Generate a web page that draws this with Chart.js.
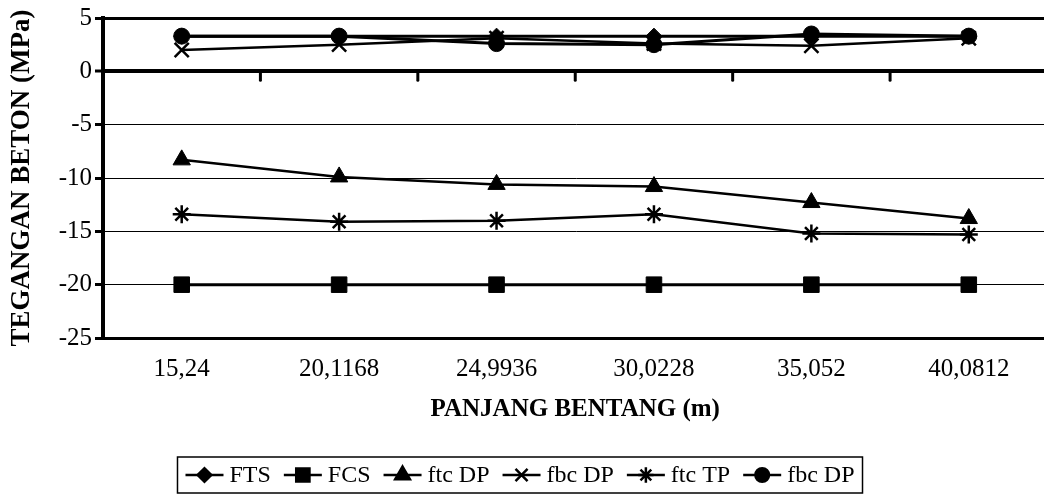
<!DOCTYPE html>
<html>
<head>
<meta charset="utf-8">
<script src="https://cdn.jsdelivr.net/npm/chart.js@4.4.1/dist/chart.umd.min.js"></script>
<style>
  html, body { margin: 0; padding: 0; background: #fff; overflow: hidden; }
  #wrap { position: relative; width: 1060px; height: 497px; }
</style>
</head>
<body>
<div id="wrap"><canvas id="chart"></canvas></div>
<script>
// Span lengths (m)
const categories = ['15,24', '20,1168', '24,9936', '30,0228', '35,052', '40,0812'];

// Concrete stresses (MPa) per span
const fts   = [3.3, 3.3, 3.3, 3.3, 3.3, 3.3];
const fcs   = [-20, -20, -20, -20, -20, -20];
const ftcDP = [-8.3, -9.9, -10.6, -10.8, -12.3, -13.8];
const fbcDP = [2.0, 2.5, 3.1, 2.6, 2.4, 3.1];
const ftcTP = [-13.4, -14.1, -14.0, -13.4, -15.2, -15.3];
const fbcDP2 = [3.3, 3.3, 2.6, 2.5, 3.5, 3.3];

const yTicks = [5, 0, -5, -10, -15, -20, -25];

const serif = '"Liberation Serif", "Times New Roman", serif';

function series(label, data, style, radius, width) {
  return {
    label, data,
    borderColor: '#000', backgroundColor: '#000',
    borderWidth: width, pointStyle: style, pointRadius: radius,
    pointHoverRadius: radius, pointBorderWidth: style === 'crossRot' || style === 'star' ? 2.5 : 1,
    pointBorderColor: '#000', pointBackgroundColor: '#000',
    tension: 0, fill: false
  };
}

const datasets = [
  series('FTS', fts, 'rectRot', 8, 3),
  series('FCS', fcs, 'rect', 11, 3),
  series('ftc DP', ftcDP, 'triangle', 10, 2.5),
  series('fbc DP', fbcDP, 'crossRot', 10, 2.5),
  series('ftc TP', ftcTP, 'star', 9, 2.5),
  series('fbc DP', fbcDP2, 'circle', 8, 3)
];

// Small downward ticks on the zero line at category boundaries
const zeroTicks = {
  id: 'zeroTicks',
  afterDatasetsDraw(chart) {
    const x = chart.scales.x, y = chart.scales.y, ctx = chart.ctx;
    const y0 = y.getPixelForValue(0);
    ctx.save();
    ctx.strokeStyle = '#000';
    ctx.lineWidth = 3;
    ctx.lineCap = 'round';
    for (let i = 0; i < categories.length - 1; i++) {
      const bx = (x.getPixelForValue(i) + x.getPixelForValue(i + 1)) / 2;
      ctx.beginPath();
      ctx.moveTo(bx, y0);
      ctx.lineTo(bx, y0 + 9);
      ctx.stroke();
    }
    ctx.restore();
  }
};

// Boxed legend with a line running through each marker
const boxLegend = {
  id: 'boxLegend',
  afterDraw(chart) {
    const ctx = chart.ctx;
    const ds = chart.data.datasets;
    const lineLen = 38, gapText = 6, gapItem = 13, padX = 8;
    const cy = 475, boxTop = 457, boxH = 36;
    ctx.save();
    ctx.font = '24px ' + serif;
    const widths = ds.map(d => ctx.measureText(d.label).width);
    const total = widths.reduce((a, w) => a + lineLen + gapText + w, 0) + gapItem * (ds.length - 1) + padX * 2;
    const left = 520 - total / 2;
    ctx.strokeStyle = '#000';
    ctx.lineWidth = 1.5;
    ctx.strokeRect(left, boxTop, total, boxH);
    let xp = left + padX;
    ds.forEach((d, i) => {
      ctx.lineWidth = 2.5;
      ctx.beginPath();
      ctx.moveTo(xp, cy);
      ctx.lineTo(xp + lineLen, cy);
      ctx.stroke();
      Chart.helpers.drawPoint(ctx, {
        pointStyle: d.pointStyle, radius: d.pointRadius * 0.85, rotation: 0,
        borderWidth: d.pointBorderWidth
      }, xp + lineLen / 2, cy);
      ctx.fillStyle = '#000';
      ctx.textBaseline = 'middle';
      ctx.textAlign = 'left';
      ctx.fillText(d.label, xp + lineLen + gapText, cy + 1);
      xp += lineLen + gapText + widths[i] + gapItem;
    });
    ctx.restore();
  }
};

new Chart(document.getElementById('chart'), {
  type: 'line',
  data: { labels: categories, datasets },
  options: {
    responsive: true,
    maintainAspectRatio: false,
    animation: false,
    layout: { padding: { top: 10, left: 6, right: 3, bottom: 72 } },
    plugins: { legend: { display: false }, tooltip: { enabled: false } },
    scales: {
      x: {
        offset: true,
        afterFit(scale) { scale.height = 87; },
        grid: { display: false },
        border: { display: true, color: '#000', width: 3 },
        ticks: { color: '#000', font: { family: serif, size: 25 }, padding: 8, maxRotation: 0 },
        title: { display: true, text: 'PANJANG BENTANG (m)', color: '#000',
                 font: { family: serif, size: 25, weight: 'bold' }, padding: { top: 0, bottom: 0 } }
      },
      y: {
        min: -25, max: 5,
        afterFit(scale) { scale.width = 97; },
        afterBuildTicks(scale) { scale.ticks = yTicks.map(v => ({ value: v })); },
        grid: {
          color: '#000',
          lineWidth: c => c.tick && c.tick.value === 0 ? 4 : (c.tick && c.tick.value === 5 ? 3 : 1),
          tickLength: 8, tickWidth: 3, tickColor: '#000'
        },
        border: { display: true, color: '#000', width: 4 },
        ticks: { color: '#000', font: { family: serif, size: 25 }, padding: 3 },
        title: { display: true, text: 'TEGANGAN BETON (MPa)', color: '#000',
                 font: { family: serif, size: 27, weight: 'bold' }, padding: { top: 0, bottom: 4 } }
      }
    }
  },
  plugins: [zeroTicks, boxLegend]
});
</script>
</body>
</html>
